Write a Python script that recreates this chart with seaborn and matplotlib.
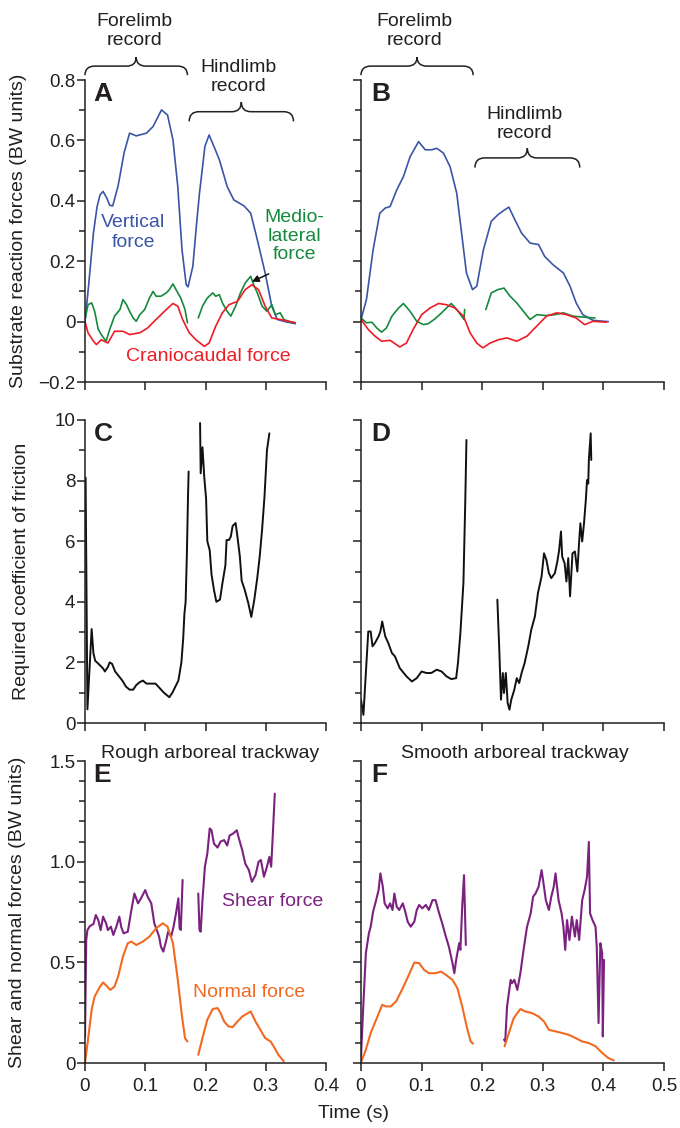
import numpy as np
import pandas as pd
import matplotlib
matplotlib.use("Agg")
import matplotlib.pyplot as plt
import seaborn as sns
from matplotlib.path import Path
from matplotlib.patches import PathPatch
from matplotlib.ticker import MultipleLocator

# ---------------- DATA ----------------
# Panel A (rough trackway) substrate reaction forces
a_vert_t = [0, 0.006, 0.014, 0.020, 0.025, 0.030, 0.036, 0.041, 0.046, 0.055, 0.065, 0.074, 0.085, 0.102, 0.113,
            0.127, 0.137, 0.146, 0.154, 0.161, 0.168, 0.171, 0.179, 0.185, 0.190, 0.199, 0.206, 0.214, 0.223,
            0.236, 0.247, 0.264, 0.275, 0.286, 0.299, 0.310, 0.319, 0.332, 0.349]
a_vert_v = [0, 0.12, 0.293, 0.38, 0.42, 0.431, 0.41, 0.385, 0.383, 0.45, 0.56, 0.624, 0.615, 0.624, 0.646,
            0.701, 0.684, 0.602, 0.447, 0.238, 0.122, 0.115, 0.183, 0.32, 0.425, 0.580, 0.618, 0.580, 0.536,
            0.447, 0.403, 0.383, 0.359, 0.271, 0.161, 0.051, 0.007, 0.0, -0.007]

a_ml1_t = [0, 0.005, 0.011, 0.016, 0.022, 0.027, 0.035, 0.041, 0.049, 0.058, 0.063, 0.069, 0.074, 0.080, 0.085,
           0.091, 0.099, 0.107, 0.113, 0.118, 0.126, 0.135, 0.140, 0.146, 0.151, 0.159, 0.166, 0.170]
a_ml1_v = [0.007, 0.056, 0.062, 0.034, -0.026, -0.043, -0.065, -0.026, 0.018, 0.040, 0.073, 0.056, 0.034, 0.012,
           0.001, 0.023, 0.040, 0.078, 0.100, 0.084, 0.084, 0.095, 0.106, 0.125, 0.106, 0.078, 0.040, -0.004]
a_ml2_t = [0.188, 0.195, 0.203, 0.212, 0.217, 0.223, 0.228, 0.236, 0.242, 0.250, 0.258, 0.266, 0.275, 0.280,
           0.286, 0.294, 0.302, 0.310, 0.316, 0.324, 0.330, 0.338, 0.349]
a_ml2_v = [0.012, 0.051, 0.078, 0.095, 0.084, 0.089, 0.062, 0.034, 0.018, 0.051, 0.095, 0.128, 0.150, 0.122,
           0.095, 0.051, 0.034, 0.056, 0.023, 0.029, 0.007, 0.001, -0.004]

a_cc_t = [0, 0.005, 0.014, 0.019, 0.027, 0.038, 0.049, 0.063, 0.074, 0.091, 0.104, 0.118, 0.135, 0.146, 0.154,
          0.162, 0.173, 0.184, 0.198, 0.206, 0.217, 0.228, 0.239, 0.253, 0.266, 0.277, 0.288, 0.299, 0.310,
          0.324, 0.338, 0.349]
a_cc_v = [0, -0.037, -0.065, -0.076, -0.060, -0.071, -0.032, -0.032, -0.043, -0.037, -0.021, 0.007, 0.040, 0.060,
          0.051, 0.007, -0.037, -0.060, -0.082, -0.071, -0.015, 0.029, 0.056, 0.067, 0.106, 0.122, 0.106, 0.051,
          0.012, 0.007, 0.001, -0.004]

# Panel B (smooth trackway) substrate reaction forces
b_vert_t = [0, 0.009, 0.020, 0.031, 0.040, 0.048, 0.059, 0.070, 0.081, 0.095, 0.106, 0.117, 0.125, 0.136, 0.147,
            0.158, 0.166, 0.174, 0.184, 0.191, 0.202, 0.215, 0.226, 0.237, 0.244, 0.254, 0.265, 0.279, 0.293,
            0.303, 0.317, 0.334, 0.345, 0.355, 0.366, 0.383, 0.408]
b_vert_v = [0.007, 0.073, 0.238, 0.359, 0.376, 0.381, 0.436, 0.480, 0.546, 0.596, 0.569, 0.569, 0.574, 0.558,
            0.513, 0.425, 0.293, 0.161, 0.106, 0.117, 0.238, 0.332, 0.354, 0.370, 0.379, 0.337, 0.293, 0.260,
            0.255, 0.216, 0.188, 0.161, 0.117, 0.062, 0.023, 0.004, 0.0]

b_ml1_t = [0, 0.009, 0.018, 0.026, 0.034, 0.042, 0.051, 0.062, 0.070, 0.081, 0.092, 0.103, 0.111, 0.122, 0.133,
           0.141, 0.149, 0.158, 0.166, 0.170, 0.171]
b_ml1_v = [0.012, -0.004, -0.002, -0.021, -0.035, -0.021, 0.018, 0.045, 0.060, 0.034, 0.001, -0.010, -0.007,
           0.009, 0.029, 0.045, 0.060, 0.040, 0.018, 0.007, 0.040]
b_ml2_t = [0.206, 0.215, 0.226, 0.236, 0.246, 0.257, 0.268, 0.279, 0.290, 0.306, 0.320, 0.334, 0.350, 0.366, 0.386]
b_ml2_v = [0.040, 0.095, 0.106, 0.111, 0.084, 0.062, 0.034, 0.007, 0.023, 0.020, 0.023, 0.029, 0.018, 0.015, 0.012]

b_cc_t = [0, 0.012, 0.023, 0.034, 0.048, 0.064, 0.075, 0.086, 0.100, 0.114, 0.128, 0.141, 0.155, 0.169, 0.180,
          0.191, 0.201, 0.213, 0.227, 0.241, 0.257, 0.274, 0.290, 0.306, 0.323, 0.339, 0.355, 0.369, 0.383, 0.405]
b_cc_v = [0.007, -0.026, -0.048, -0.065, -0.062, -0.084, -0.071, -0.026, 0.023, 0.045, 0.060, 0.056, 0.045, 0.018,
          -0.037, -0.071, -0.087, -0.071, -0.060, -0.054, -0.065, -0.048, -0.015, 0.018, 0.029, 0.023, 0.012,
          -0.010, 0.001, -0.002]

# Panel C (rough) required coefficient of friction
c1_t = [0.001, 0.004, 0.011, 0.014, 0.017, 0.020, 0.025, 0.030, 0.033, 0.038, 0.041, 0.045, 0.050, 0.056, 0.062,
        0.068, 0.074, 0.080, 0.085, 0.091, 0.096, 0.102, 0.110, 0.117, 0.124, 0.131, 0.137, 0.140, 0.145, 0.150,
        0.155, 0.160, 0.163, 0.165, 0.167, 0.169, 0.171, 0.172]
c1_v = [8.1, 0.45, 3.1, 2.3, 2.05, 2.0, 1.9, 1.8, 1.7, 1.85, 2.0, 1.95, 1.7, 1.55, 1.4, 1.2, 1.1, 1.1, 1.25, 1.35,
        1.4, 1.3, 1.3, 1.3, 1.15, 1.0, 0.9, 0.85, 1.0, 1.2, 1.4, 2.0, 2.8, 3.6, 4.0, 5.5, 7.5, 8.3]
c2_t = [0.191, 0.192, 0.195, 0.198, 0.201, 0.203, 0.207, 0.210, 0.214, 0.218, 0.224, 0.228, 0.233, 0.235, 0.239,
        0.242, 0.245, 0.250, 0.253, 0.257, 0.260, 0.265, 0.271, 0.276, 0.281, 0.286, 0.290, 0.294, 0.298, 0.302,
        0.306]
c2_v = [9.9, 8.24, 9.1, 8.1, 7.4, 6.0, 5.7, 4.9, 4.4, 4.0, 4.07, 4.6, 5.2, 6.04, 6.04, 6.15, 6.5, 6.6, 6.15, 5.5,
        4.7, 4.4, 3.96, 3.5, 4.07, 4.8, 5.5, 6.4, 7.5, 9.0, 9.56]

# Panel D (smooth) required coefficient of friction
d1_t = [0, 0.004, 0.008, 0.012, 0.016, 0.019, 0.023, 0.029, 0.032, 0.035, 0.040, 0.045, 0.051, 0.056, 0.064,
        0.075, 0.084, 0.092, 0.100, 0.108, 0.116, 0.125, 0.133, 0.141, 0.149, 0.157, 0.160, 0.164, 0.169, 0.172,
        0.174]
d1_v = [0.77, 0.27, 1.65, 3.02, 3.02, 2.53, 2.64, 2.86, 3.02, 3.35, 2.86, 2.64, 2.31, 2.2, 1.81, 1.54, 1.37, 1.48,
        1.70, 1.65, 1.65, 1.76, 1.70, 1.54, 1.45, 1.48, 1.98, 2.97, 4.62, 7.25, 9.34]
d2_t = [0.225, 0.228, 0.231, 0.234, 0.236, 0.239, 0.242, 0.245, 0.248, 0.253, 0.257, 0.261, 0.265, 0.270, 0.276,
        0.281, 0.287, 0.292, 0.298, 0.302, 0.306, 0.310, 0.314, 0.320, 0.324, 0.327, 0.330, 0.332, 0.336, 0.339,
        0.342, 0.345, 0.349, 0.353, 0.357, 0.360, 0.362, 0.365, 0.368, 0.371, 0.373, 0.375, 0.376, 0.379, 0.380]
d2_v = [4.07, 2.53, 0.77, 1.65, 0.99, 1.65, 0.66, 0.44, 0.77, 1.10, 1.48, 1.32, 1.65, 1.98, 2.53, 3.08, 3.52, 4.29,
        4.84, 5.6, 5.38, 4.95, 4.78, 4.95, 5.33, 5.71, 6.32, 5.49, 5.27, 4.67, 5.44, 4.18, 5.6, 5.66, 5.0, 5.99,
        6.59, 5.99, 6.59, 7.36, 8.02, 7.9, 8.68, 9.56, 8.68]

# Panel E (rough) shear and normal forces
e_sh1_t = [0, 0.002, 0.004, 0.008, 0.014, 0.018, 0.022, 0.026, 0.030, 0.035, 0.038, 0.043, 0.047, 0.052, 0.057,
           0.060, 0.064, 0.071, 0.077, 0.082, 0.088, 0.093, 0.100, 0.104, 0.110, 0.115, 0.123, 0.126, 0.130,
           0.135, 0.138, 0.143, 0.147, 0.151, 0.155, 0.157, 0.159, 0.162]
e_sh1_v = [0.13, 0.61, 0.66, 0.68, 0.69, 0.735, 0.71, 0.66, 0.727, 0.694, 0.66, 0.677, 0.636, 0.677, 0.727,
           0.677, 0.644, 0.652, 0.76, 0.842, 0.793, 0.818, 0.859, 0.826, 0.793, 0.694, 0.628, 0.578, 0.553,
           0.611, 0.652, 0.628, 0.677, 0.743, 0.818, 0.669, 0.661, 0.909]
e_sh2_t = [0.188, 0.190, 0.192, 0.195, 0.199, 0.203, 0.207, 0.210, 0.214, 0.220, 0.225, 0.231, 0.236, 0.240,
           0.246, 0.252, 0.255, 0.261, 0.266, 0.272, 0.277, 0.283, 0.288, 0.292, 0.297, 0.302, 0.306, 0.309,
           0.311, 0.315]
e_sh2_v = [0.842, 0.661, 0.652, 0.809, 0.975, 1.04, 1.165, 1.156, 1.09, 1.07, 1.10, 1.107, 1.08, 1.13, 1.14,
           1.156, 1.12, 1.057, 0.99, 0.958, 0.90, 0.933, 0.999, 1.008, 0.925, 0.975, 1.024, 0.975, 1.09, 1.338]
e_nf1_t = [0, 0.005, 0.011, 0.016, 0.025, 0.030, 0.036, 0.042, 0.049, 0.055, 0.063, 0.071, 0.077, 0.085, 0.096,
           0.107, 0.118, 0.129, 0.137, 0.146, 0.154, 0.161, 0.166, 0.170]
e_nf1_v = [0, 0.116, 0.264, 0.33, 0.38, 0.40, 0.383, 0.363, 0.38, 0.43, 0.529, 0.595, 0.603, 0.586, 0.603, 0.628,
           0.669, 0.694, 0.677, 0.595, 0.413, 0.231, 0.124, 0.107]
e_nf2_t = [0.188, 0.195, 0.203, 0.212, 0.220, 0.225, 0.231, 0.238, 0.245, 0.253, 0.261, 0.275, 0.283, 0.291,
           0.299, 0.308, 0.313, 0.321, 0.330]
e_nf2_v = [0.041, 0.124, 0.215, 0.268, 0.273, 0.248, 0.206, 0.182, 0.178, 0.206, 0.231, 0.256, 0.206, 0.165,
           0.124, 0.107, 0.083, 0.041, 0.008]

# Panel F (smooth) shear and normal forces
f_sh1_t = [0, 0.004, 0.008, 0.013, 0.016, 0.020, 0.025, 0.029, 0.032, 0.036, 0.039, 0.044, 0.048, 0.052, 0.055,
           0.059, 0.063, 0.069, 0.073, 0.077, 0.082, 0.088, 0.092, 0.096, 0.101, 0.107, 0.112, 0.118, 0.123,
           0.129, 0.134, 0.140, 0.145, 0.151, 0.154, 0.157, 0.162, 0.164, 0.167, 0.170, 0.173]
f_sh1_v = [0.033, 0.297, 0.545, 0.644, 0.677, 0.752, 0.809, 0.859, 0.942, 0.875, 0.793, 0.768, 0.793, 0.760,
           0.842, 0.776, 0.760, 0.793, 0.752, 0.702, 0.677, 0.702, 0.760, 0.785, 0.768, 0.785, 0.760, 0.809,
           0.809, 0.743, 0.694, 0.628, 0.578, 0.496, 0.446, 0.512, 0.595, 0.562, 0.776, 0.933, 0.586]
f_sh2_t = [0.236, 0.238, 0.241, 0.247, 0.249, 0.253, 0.258, 0.263, 0.269, 0.274, 0.280, 0.284, 0.288, 0.293,
           0.298, 0.302, 0.305, 0.310, 0.314, 0.318, 0.321, 0.326, 0.331, 0.334, 0.337, 0.340, 0.344, 0.348,
           0.353, 0.356, 0.360, 0.365, 0.369, 0.373, 0.376, 0.378, 0.382, 0.387, 0.389, 0.392, 0.395, 0.398,
           0.399, 0.401]
f_sh2_v = [0.116, 0.107, 0.281, 0.413, 0.396, 0.413, 0.363, 0.446, 0.578, 0.677, 0.743, 0.826, 0.842, 0.875,
           0.958, 0.875, 0.809, 0.760, 0.826, 0.875, 0.942, 0.809, 0.743, 0.677, 0.562, 0.710, 0.611, 0.727,
           0.628, 0.710, 0.611, 0.809, 0.859, 0.925, 1.098, 0.743, 0.710, 0.677, 0.578, 0.198, 0.595, 0.545,
           0.132, 0.512]
f_nf1_t = [0, 0.008, 0.016, 0.025, 0.035, 0.041, 0.049, 0.058, 0.069, 0.079, 0.088, 0.096, 0.104, 0.112, 0.123,
           0.132, 0.140, 0.151, 0.159, 0.167, 0.175, 0.181, 0.185]
f_nf1_v = [0.003, 0.066, 0.149, 0.215, 0.289, 0.281, 0.281, 0.306, 0.372, 0.438, 0.499, 0.496, 0.463, 0.446,
           0.446, 0.454, 0.438, 0.413, 0.372, 0.281, 0.173, 0.107, 0.096]
f_nf2_t = [0.237, 0.244, 0.252, 0.263, 0.271, 0.282, 0.293, 0.302, 0.310, 0.321, 0.332, 0.343, 0.354, 0.365,
           0.376, 0.387, 0.398, 0.408, 0.417]
f_nf2_v = [0.083, 0.149, 0.223, 0.268, 0.256, 0.248, 0.231, 0.206, 0.165, 0.157, 0.149, 0.140, 0.124, 0.107,
           0.099, 0.083, 0.050, 0.025, 0.013]

# Tick labels
ab_yticks = [-0.2, 0, 0.2, 0.4, 0.6, 0.8]
ab_yticklabels = ["\u22120.2", "0", "0.2", "0.4", "0.6", "0.8"]
cd_yticks = [0, 2, 4, 6, 8, 10]
cd_yticklabels = ["0", "2", "4", "6", "8", "10"]
ef_yticks = [0, 0.5, 1.0, 1.5]
ef_yticklabels = ["0", "0.5", "1.0", "1.5"]
left_xticks = [0, 0.1, 0.2, 0.3, 0.4]
left_xticklabels = ["0", "0.1", "0.2", "0.3", "0.4"]
right_xticks = [0, 0.1, 0.2, 0.3, 0.4, 0.5]
right_xticklabels = ["0", "0.1", "0.2", "0.3", "0.4", "0.5"]

# ---------------- STYLE ----------------
sns.set_theme(style="ticks")
plt.rcParams["font.family"] = ["Liberation Sans", "DejaVu Sans"]
TXT = "#231f20"
plt.rcParams.update({
    "axes.linewidth": 1.1, "xtick.major.width": 1.1, "ytick.major.width": 1.1,
    "ytick.minor.width": 1.1, "xtick.color": TXT, "ytick.color": TXT,
    "axes.edgecolor": TXT, "text.color": TXT,
})
BLUE = "#3a55a6"
GREEN = "#15893d"
RED = "#ee1c25"
PURPLE = "#7b2180"
ORANGE = "#f26a22"
BLACK = "#111111"

W, H = 680, 1128
fig = plt.figure(figsize=(W / 100, H / 100), dpi=100)


def add_ax(l, t, r, b):
    return fig.add_axes([l / W, 1 - b / H, (r - l) / W, (b - t) / H])


axA = add_ax(85, 80, 326, 382)
axB = add_ax(361, 80, 664, 382)
axC = add_ax(85, 420, 326, 723)
axD = add_ax(361, 420, 664, 723)
axE = add_ax(85, 761, 326, 1063)
axF = add_ax(361, 761, 664, 1063)


def seg(ax, t, v, color, lw):
    df = pd.DataFrame({"t": t, "v": v})
    sns.lineplot(data=df, x="t", y="v", ax=ax, color=color, lw=lw, sort=False, estimator=None)


# draw curves
seg(axA, a_vert_t, a_vert_v, BLUE, 1.2)
seg(axA, a_ml1_t, a_ml1_v, GREEN, 1.2)
seg(axA, a_ml2_t, a_ml2_v, GREEN, 1.2)
seg(axA, a_cc_t, a_cc_v, RED, 1.2)

seg(axB, b_vert_t, b_vert_v, BLUE, 1.2)
seg(axB, b_ml1_t, b_ml1_v, GREEN, 1.2)
seg(axB, b_ml2_t, b_ml2_v, GREEN, 1.2)
seg(axB, b_cc_t, b_cc_v, RED, 1.2)

seg(axC, c1_t, c1_v, BLACK, 1.4)
seg(axC, c2_t, c2_v, BLACK, 1.4)
seg(axD, d1_t, d1_v, BLACK, 1.4)
seg(axD, d2_t, d2_v, BLACK, 1.4)

seg(axE, e_sh1_t, e_sh1_v, PURPLE, 1.5)
seg(axE, e_sh2_t, e_sh2_v, PURPLE, 1.5)
seg(axE, e_nf1_t, e_nf1_v, ORANGE, 1.5)
seg(axE, e_nf2_t, e_nf2_v, ORANGE, 1.5)

seg(axF, f_sh1_t, f_sh1_v, PURPLE, 1.5)
seg(axF, f_sh2_t, f_sh2_v, PURPLE, 1.5)
seg(axF, f_nf1_t, f_nf1_v, ORANGE, 1.5)
seg(axF, f_nf2_t, f_nf2_v, ORANGE, 1.5)

TICK_FS = 13.5
rows = [(axA, axB, (-0.2, 0.8), ab_yticks, ab_yticklabels, 0.1),
        (axC, axD, (0, 10), cd_yticks, cd_yticklabels, 1),
        (axE, axF, (0, 1.5), ef_yticks, ef_yticklabels, 0.1)]
for i, (la, ra, ylim, yt, ytl, minor) in enumerate(rows):
    for j, ax in enumerate((la, ra)):
        ax.set_xlabel("")
        ax.set_ylabel("")
        ax.set_ylim(*ylim)
        ax.set_xlim(0, 0.4 if j == 0 else 0.5)
        ax.set_yticks(yt)
        ax.yaxis.set_minor_locator(MultipleLocator(minor))
        if j == 0:
            ax.set_yticklabels(ytl, fontsize=TICK_FS)
        else:
            ax.set_yticklabels([])
        xt = left_xticks if j == 0 else right_xticks
        xtl = left_xticklabels if j == 0 else right_xticklabels
        ax.set_xticks(xt)
        if i == 2:
            ax.set_xticklabels(xtl, fontsize=TICK_FS)
        else:
            ax.set_xticklabels([])
        ax.tick_params(axis="y", which="major", length=6, width=1.1, pad=1, direction="out")
        ax.tick_params(axis="y", which="minor", length=4, width=1.1, direction="out")
        ax.tick_params(axis="x", which="major", length=6, width=1.1, pad=5, direction="out")
        ax.set_facecolor("none")
        sns.despine(ax=ax)

# panel letters
for ax, letter in [(axA, "A"), (axB, "B"), (axC, "C"), (axD, "D"), (axE, "E"), (axF, "F")]:
    ax.text(0.035, 0.995, letter, transform=ax.transAxes, ha="left", va="top",
            fontsize=19, fontweight="bold", color=TXT)


def brace(ax, x0, x1, y, h, r, lw=1.1):
    xm = (x0 + x1) / 2
    verts = [(x0, y - h), (x0, y), (x0 + r, y),
             (xm - r, y), (xm, y), (xm, y + h),
             (xm, y), (xm + r, y),
             (x1 - r, y), (x1, y), (x1, y - h)]
    codes = [Path.MOVETO, Path.CURVE3, Path.CURVE3,
             Path.LINETO, Path.CURVE3, Path.CURVE3,
             Path.CURVE3, Path.CURVE3,
             Path.LINETO, Path.CURVE3, Path.CURVE3]
    ax.add_patch(PathPatch(Path(verts, codes), fill=False, lw=lw, edgecolor=TXT,
                           clip_on=False, transform=ax.transData))


ANN_FS = 14
LS = 1.17
# braces and record labels
brace(axA, 0.0, 0.170, 0.846, 0.03, 0.016)
axA.text(0.082, 0.962, "Forelimb\nrecord", ha="center", va="center", fontsize=ANN_FS,
         linespacing=LS, clip_on=False)
brace(axA, 0.173, 0.346, 0.695, 0.032, 0.016)
axA.text(0.255, 0.81, "Hindlimb\nrecord", ha="center", va="center", fontsize=ANN_FS, linespacing=LS)
brace(axB, 0.0, 0.185, 0.846, 0.03, 0.016)
axB.text(0.089, 0.962, "Forelimb\nrecord", ha="center", va="center", fontsize=ANN_FS,
         linespacing=LS, clip_on=False)
brace(axB, 0.188, 0.361, 0.542, 0.032, 0.016)
axB.text(0.27, 0.653, "Hindlimb\nrecord", ha="center", va="center", fontsize=ANN_FS, linespacing=LS)

# series labels
axA.text(0.0805, 0.295, "Vertical\nforce", ha="center", va="center", fontsize=ANN_FS, color=BLUE,
         linespacing=LS)
axA.text(0.347, 0.283, "Medio-\nlateral\nforce", ha="center", va="center", fontsize=ANN_FS,
         color=GREEN, linespacing=1.12)
axA.annotate("", xy=(0.277, 0.132), xytext=(0.305, 0.158),
             arrowprops=dict(arrowstyle="-|>", color=BLACK, lw=1.1, mutation_scale=10,
                             shrinkA=0, shrinkB=0))
axA.text(0.2045, -0.117, "Craniocaudal force", ha="center", va="center", fontsize=ANN_FS, color=RED)
axE.text(0.311, 0.80, "Shear force", ha="center", va="center", fontsize=ANN_FS, color=PURPLE)
axE.text(0.272, 0.348, "Normal force", ha="center", va="center", fontsize=ANN_FS, color=ORANGE)

fig.text(210 / W, 1 - 753 / H, "Rough arboreal trackway", ha="center", va="center", fontsize=ANN_FS)
fig.text(515 / W, 1 - 753 / H, "Smooth arboreal trackway", ha="center", va="center", fontsize=ANN_FS)

# axis titles
LAB_FS = 14
fig.text(19 / W, 1 - 231 / H, "Substrate reaction forces (BW units)", rotation=90,
         ha="center", va="center", fontsize=LAB_FS)
fig.text(22 / W, 1 - 571 / H, "Required coefficient of friction", rotation=90,
         ha="center", va="center", fontsize=LAB_FS)
fig.text(18 / W, 1 - 912 / H, "Shear and normal forces (BW units)", rotation=90,
         ha="center", va="center", fontsize=LAB_FS)
fig.text(353 / W, 1 - 1114 / H, "Time (s)", ha="center", va="center", fontsize=LAB_FS)

fig.savefig("out.png", dpi=100, facecolor="white")
